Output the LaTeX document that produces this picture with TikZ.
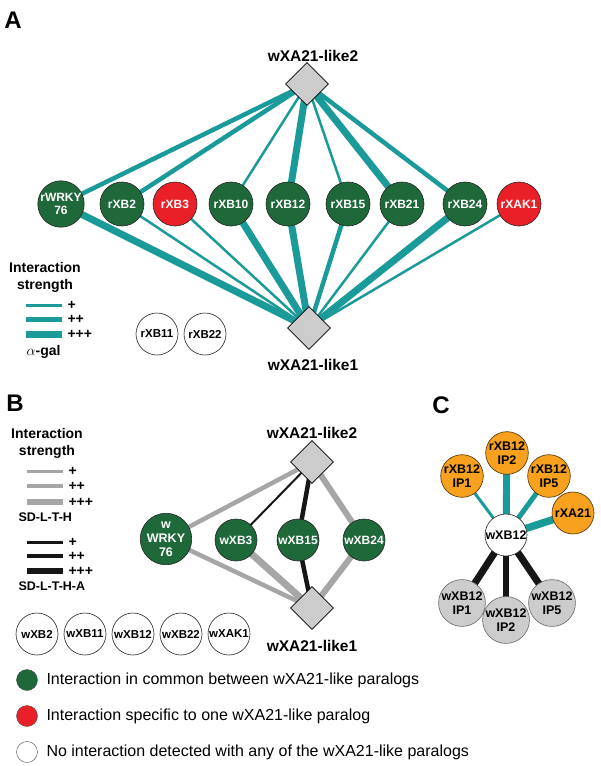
\documentclass[tikz,border=0pt]{standalone}
\usepackage{fontspec}
\setmainfont{Liberation Sans}
\usetikzlibrary{shapes.geometric,backgrounds}

\definecolor{tealline}{RGB}{26,154,152}
\definecolor{darkgreen}{RGB}{30,104,58}
\definecolor{brightred}{RGB}{234,32,40}
\definecolor{orangefill}{RGB}{247,161,30}
\definecolor{lightgrey}{RGB}{204,204,204}
\definecolor{midgrey}{RGB}{166,166,166}
\definecolor{nearblack}{RGB}{22,22,22}

\begin{document}
\begin{tikzpicture}[
    x=1pt, y=-1pt,
    prot/.style={circle, draw=black!85, line width=0.6pt, minimum size=44pt, inner sep=0pt,
        align=center, font=\fontsize{12}{13}\selectfont\bfseries},
    common/.style={prot, fill=darkgreen, text=white},
    specific/.style={prot, fill=brightred, text=white},
    noint/.style={prot, fill=white, minimum size=42pt, font=\fontsize{11.5}{12}\selectfont\bfseries},
    partner/.style={prot, fill=orangefill, draw=black!70!orangefill, minimum size=42pt,
        font=\fontsize{12.5}{14}\selectfont\bfseries},
    greyprot/.style={prot, fill=lightgrey, draw=black!60, minimum size=42pt,
        font=\fontsize{12.5}{14}\selectfont\bfseries},
    bait/.style={diamond, draw, line width=0.8pt, fill=lightgrey, minimum width=43pt,
        minimum height=43pt, inner sep=0pt},
    baitname/.style={font=\fontsize{15.5}{16}\selectfont\bfseries},
    panel/.style={font=\fontsize{24}{24}\selectfont\bfseries},
    legtitle/.style={align=center, font=\fontsize{14}{17}\selectfont\bfseries},
    legtext/.style={anchor=west, font=\fontsize{14}{14}\selectfont\bfseries},
    keytext/.style={anchor=west, font=\fontsize{16}{16}\selectfont},
    weak/.style={line width=2.5pt},
    medium/.style={line width=4.5pt},
    strong/.style={line width=7pt}
]
\useasboundingbox (0,0) rectangle (600,766);

% Панель A
\node[panel] (labA) at (13,20) {A};
\node[bait] (A2) at (307,84) {};
\node[baitname] (A2name) at (313,56) {wXA21-like2};
\node[bait] (A1) at (309,328) {};
\node[baitname] (A1name) at (313,365) {wXA21-like1};

\node[common] (awrky) at (61,204) {rWRKY\\76};
\node[common] (axb2) at (122,204) {rXB2};
\node[specific] (axb3) at (175,204) {rXB3};
\node[common] (axb10) at (231,204) {rXB10};
\node[common] (axb12) at (288,204) {rXB12};
\node[common] (axb15) at (348,204) {rXB15};
\node[common] (axb21) at (402,204) {rXB21};
\node[common] (axb24) at (465,204) {rXB24};
\node[specific] (axak1) at (519,204) {rXAK1};
\node[noint] (axb11) at (157,334) {rXB11};
\node[noint] (axb22) at (205,334) {rXB22};

\begin{scope}[on background layer]
\draw[tealline, medium] (A2.center) -- (awrky.center);
\draw[tealline, medium] (A2.center) -- (axb2.center);
\draw[tealline, weak] (A2.center) -- (axb10.center);
\draw[tealline, strong] (A2.center) -- (axb12.center);
\draw[tealline, weak] (A2.center) -- (axb15.center);
\draw[tealline, strong] (A2.center) -- (axb21.center);
\draw[tealline, medium] (A2.center) -- (axb24.center);
\draw[tealline, strong] (A1.center) -- (awrky.center);
\draw[tealline, weak] (A1.center) -- (axb2.center);
\draw[tealline, weak] (A1.center) -- (axb3.center);
\draw[tealline, strong] (A1.center) -- (axb10.center);
\draw[tealline, strong] (A1.center) -- (axb12.center);
\draw[tealline, medium] (A1.center) -- (axb15.center);
\draw[tealline, weak] (A1.center) -- (axb21.center);
\draw[tealline, strong] (A1.center) -- (axb24.center);
\draw[tealline, weak] (A1.center) -- (axak1.center);
\end{scope}

% Легенда A
\node[legtitle] (legA) at (45,277) {Interaction\\strength};
\draw[tealline, line width=3pt] (26,305) -- (62,305);
\draw[tealline, line width=5pt] (26,319) -- (62,319);
\draw[tealline, line width=7pt] (26,334) -- (62,334);
\node[legtext] (pA1) at (64,305) {+};
\node[legtext] (pA2) at (64,319) {++};
\node[legtext] (pA3) at (64,334) {+++};
\node[legtext] (galA) at (23,352) {$\alpha$-gal};

% Панель B
\node[panel] (labB) at (15,403) {B};
\node[bait] (B2) at (312,462) {};
\node[baitname] (B2name) at (312,433) {wXA21-like2};
\node[bait] (B1) at (312,608) {};
\node[baitname] (B1name) at (312,646) {wXA21-like1};

\node[common, minimum size=42pt, font=\fontsize{12.5}{14}\selectfont\bfseries] (bwrky) at (166,539) {w\\WRKY\\76};
\node[common, minimum size=42pt] (bxb3) at (236,540) {wXB3};
\node[common, minimum size=42pt] (bxb15) at (298,540) {wXB15};
\node[common, minimum size=42pt] (bxb24) at (364,540) {wXB24};

\node[noint] (bxb2) at (37,634) {wXB2};
\node[noint] (bxb11) at (85,634) {wXB11};
\node[noint] (bxb12) at (133,634) {wXB12};
\node[noint] (bxb22) at (181,634) {wXB22};
\node[noint] (bxak1) at (229,634) {wXAK1};

\begin{scope}[on background layer]
\draw[midgrey, medium] (B2.center) -- (bwrky.center);
\draw[nearblack, line width=2pt] (B2.center) -- (bxb3.center);
\draw[nearblack, medium] (B2.center) -- (bxb15.center);
\draw[midgrey, line width=6pt] (B2.center) -- (bxb24.center);
\draw[midgrey, medium] (B1.center) -- (bwrky.center);
\draw[midgrey, strong] (B1.center) -- (bxb3.center);
\draw[nearblack, medium] (B1.center) -- (bxb15.center);
\draw[midgrey, line width=6pt] (B1.center) -- (bxb24.center);
\end{scope}

% Легенда B
\node[legtitle] (legB) at (47,443) {Interaction\\strength};
\draw[midgrey, line width=3pt] (27,471) -- (63,471);
\draw[midgrey, line width=4.5pt] (27,486) -- (63,486);
\draw[midgrey, line width=6pt] (27,502) -- (63,502);
\node[legtext] (pB1) at (65,471) {+};
\node[legtext] (pB2) at (65,486) {++};
\node[legtext] (pB3) at (65,502) {+++};
\node[legtext, font=\fontsize{12.5}{13}\selectfont\bfseries] (sdB) at (15,517) {SD-L-T-H};
\draw[nearblack, line width=3pt] (27,542) -- (63,542);
\draw[nearblack, line width=4.5pt] (27,556) -- (63,556);
\draw[nearblack, line width=6pt] (27,571) -- (63,571);
\node[legtext] (pB4) at (65,542) {+};
\node[legtext] (pB5) at (65,556) {++};
\node[legtext] (pB6) at (65,571) {+++};
\node[legtext, font=\fontsize{12.5}{13}\selectfont\bfseries] (sdaB) at (15,586) {SD-L-T-H-A};

% Панель C
\node[panel] (labC) at (441,405) {C};
\node[prot, fill=white, minimum size=42pt, font=\fontsize{12.5}{14}\selectfont\bfseries] (cxb12) at (506,535) {wXB12};
\node[partner] (cip1) at (462,476) {rXB12\\IP1};
\node[partner] (cip2) at (507,453) {rXB12\\IP2};
\node[partner] (cip5) at (549,476) {rXB12\\IP5};
\node[partner] (cxa21) at (573,513) {rXA21};
\node[greyprot] (cwip1) at (462,603) {wXB12\\IP1};
\node[greyprot] (cwip5) at (552,603) {wXB12\\IP5};
\node[greyprot] (cwip2) at (506,620) {wXB12\\IP2};

\begin{scope}[on background layer]
\draw[tealline, line width=3pt] (cxb12.center) -- (cip1.center);
\draw[tealline, strong] (cxb12.center) -- (cip2.center);
\draw[tealline, line width=5pt] (cxb12.center) -- (cip5.center);
\draw[tealline, line width=7.5pt] (cxb12.center) -- (cxa21.center);
\draw[nearblack, strong] (cxb12.center) -- (cwip1.center);
\draw[nearblack, line width=6pt] (cxb12.center) -- (cwip2.center);
\draw[nearblack, strong] (cxb12.center) -- (cwip5.center);
\end{scope}

% Общая легенда
\node[circle, draw=black!70, fill=darkgreen, minimum size=21pt, inner sep=0pt] (keyg) at (27,680) {};
\node[keytext] (keygt) at (43,680) {Interaction in common between wXA21-like paralogs};
\node[circle, draw=black!70, fill=brightred, minimum size=21pt, inner sep=0pt] (keyr) at (27,716) {};
\node[keytext] (keyrt) at (43,716) {Interaction specific to one wXA21-like paralog};
\node[circle, draw=black!70, fill=white, minimum size=21pt, inner sep=0pt] (keyw) at (27,752) {};
\node[keytext] (keywt) at (43,752) {No interaction detected with any of the wXA21-like paralogs};

\end{tikzpicture}
\end{document}
